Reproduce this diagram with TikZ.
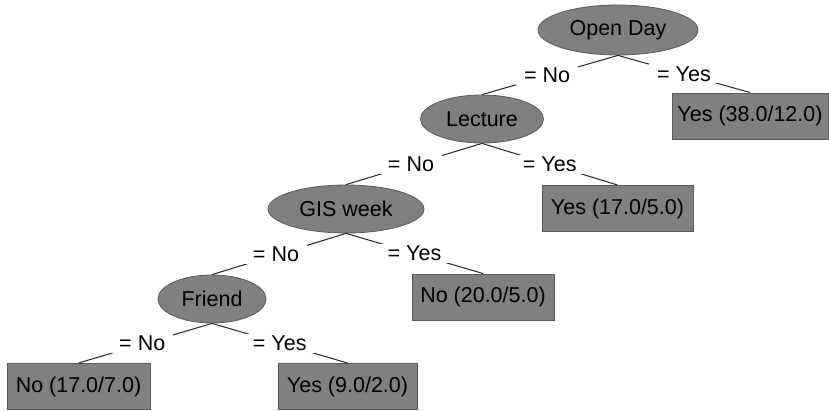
\documentclass[tikz,border=0pt]{standalone}
\usepackage{fontspec}
\setmainfont{Liberation Sans}
\usetikzlibrary{shapes.geometric}
\definecolor{wekagray}{RGB}{128,128,128}
\definecolor{edgegray}{RGB}{90,90,90}
\begin{document}
\begin{tikzpicture}[x=1pt,y=-1pt,
  every node/.style={font=\fontsize{21.5}{24}\selectfont, text=black},
  splitnode/.style={ellipse, fill=wekagray, draw=edgegray, line width=0.8pt, inner sep=0pt},
  leafnode/.style={rectangle, fill=wekagray, draw=edgegray, line width=1pt, inner sep=0pt},
  branch/.style={draw=black!85, line width=1pt},
  blabel/.style={fill=white, inner xsep=8pt, inner ysep=2pt}
]
\useasboundingbox (0,0) rectangle (829,410);
% split nodes
\node[splitnode, minimum width=160, minimum height=50] (open) at (618,30) {Open Day};
\node[splitnode, minimum width=123, minimum height=48] (lect) at (482,119) {Lecture};
\node[splitnode, minimum width=156, minimum height=48] (gis) at (346,209) {GIS week};
\node[splitnode, minimum width=108, minimum height=48] (friend) at (212,299) {Friend};
% leaves
\node[leafnode, minimum width=156, minimum height=46] (l1) at (750,116) {Yes (38.0/12.0)};
\node[leafnode, minimum width=151, minimum height=46] (l2) at (617.5,208.5) {Yes (17.0/5.0)};
\node[leafnode, minimum width=142, minimum height=46] (l3) at (483,297) {No (20.0/5.0)};
\node[leafnode, minimum width=139, minimum height=46] (l4) at (347.5,386.5) {Yes (9.0/2.0)};
\node[leafnode, minimum width=143, minimum height=46] (l5) at (78.5,386.5) {No (17.0/7.0)};
% branches
\draw[branch] (open.south) -- node[blabel, midway, xshift=-3pt] {= No} (lect.north);
\draw[branch] (open.south) -- node[blabel, midway] {= Yes} (l1.north);
\draw[branch] (lect.south) -- node[blabel, midway, xshift=-3pt] {= No} (gis.north);
\draw[branch] (lect.south) -- node[blabel, midway] {= Yes} (l2.north);
\draw[branch] (gis.south) -- node[blabel, midway, xshift=-3pt] {= No} (friend.north);
\draw[branch] (gis.south) -- node[blabel, midway] {= Yes} (l3.north);
\draw[branch] (friend.south) -- node[blabel, midway, xshift=-3pt] {= No} (l5.north);
\draw[branch] (friend.south) -- node[blabel, midway] {= Yes} (l4.north);
\end{tikzpicture}
\end{document}
